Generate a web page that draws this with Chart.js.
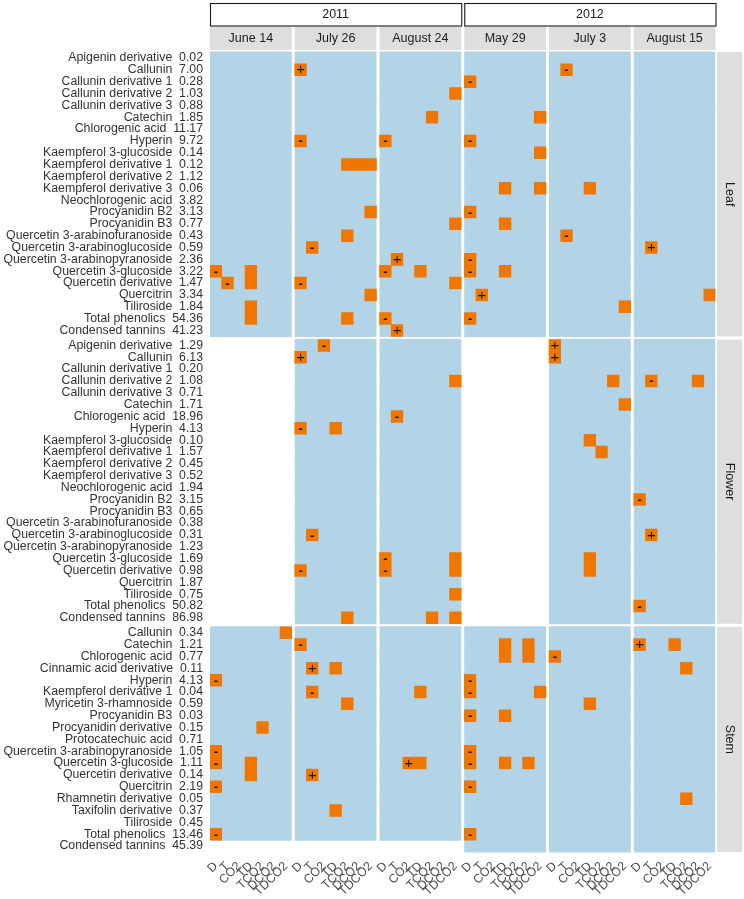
<!DOCTYPE html>
<html>
<head>
<meta charset="utf-8">
<script src="https://cdn.jsdelivr.net/npm/chart.js@4.4.1/dist/chart.umd.min.js"></script>
<style>
  html, body { margin: 0; padding: 0; background: #fff; }
  #wrap { width: 744px; height: 899px; position: relative; }
</style>
</head>
<body>
<div id="wrap"><canvas id="myChart"></canvas></div>
<script>
// facets
const years = ["2011", "2012"];
const dates = ["June 14", "July 26", "August 24", "May 29", "July 3", "August 15"];
const dateYears = ["2011", "2011", "2011", "2012", "2012", "2012"];
const treatments = ["D", "T", "CO2", "TD", "TCO2", "DCO2", "TDCO2"];
const tissues = ["Leaf", "Flower", "Stem"];

// compounds and their mean concentration per tissue
const leafCompounds = ["Apigenin derivative", "Callunin", "Callunin derivative 1", "Callunin derivative 2",
  "Callunin derivative 3", "Catechin", "Chlorogenic acid", "Hyperin", "Kaempferol 3-glucoside",
  "Kaempferol derivative 1", "Kaempferol derivative 2", "Kaempferol derivative 3", "Neochlorogenic acid",
  "Procyanidin B2", "Procyanidin B3", "Quercetin 3-arabinofuranoside", "Quercetin 3-arabinoglucoside",
  "Quercetin 3-arabinopyranoside", "Quercetin 3-glucoside", "Quercetin derivative", "Quercitrin",
  "Tiliroside", "Total phenolics", "Condensed tannins"];
const leafValues = [0.02, 7.00, 0.28, 1.03, 0.88, 1.85, 11.17, 9.72, 0.14, 0.12, 1.12, 0.06, 3.82,
  3.13, 0.77, 0.43, 0.59, 2.36, 3.22, 1.47, 3.34, 1.84, 54.36, 41.23];

const flowerCompounds = leafCompounds;
const flowerValues = [1.29, 6.13, 0.20, 1.08, 0.71, 1.71, 18.96, 4.13, 0.10, 1.57, 0.45, 0.52, 1.94,
  3.15, 0.65, 0.38, 0.31, 1.23, 1.69, 0.98, 1.87, 0.75, 50.82, 86.98];

const stemCompounds = ["Callunin", "Catechin", "Chlorogenic acid", "Cinnamic acid derivative", "Hyperin",
  "Kaempferol derivative 1", "Myricetin 3-rhamnoside", "Procyanidin B3", "Procyanidin derivative",
  "Protocatechuic acid", "Quercetin 3-arabinopyranoside", "Quercetin 3-glucoside", "Quercetin derivative",
  "Quercitrin", "Rhamnetin derivative", "Taxifolin derivative", "Tiliroside", "Total phenolics",
  "Condensed tannins"];
const stemValues = [0.34, 1.21, 0.77, 0.11, 4.13, 0.04, 0.59, 0.03, 0.15, 0.71, 1.05, 1.11, 0.14,
  2.19, 0.05, 0.37, 0.45, 13.46, 45.39];

// which sampling dates exist per tissue
const leafDates = dates;
const flowerDates = ["July 26", "August 24", "July 3", "August 15"];
const stemDates = dates;
const notMeasured = [
  ["Stem", "June 14", "Condensed tannins"],
  ["Stem", "July 26", "Condensed tannins"],
  ["Stem", "August 24", "Condensed tannins"]
];

// significant effects: [date, compound, treatment, sign]
const leafEffects = [
  ["June 14", "Quercetin 3-glucoside", "D", "-"], ["June 14", "Quercetin 3-glucoside", "TD", ""],
  ["June 14", "Quercetin derivative", "T", "-"], ["June 14", "Quercetin derivative", "TD", ""],
  ["June 14", "Tiliroside", "TD", ""], ["June 14", "Total phenolics", "TD", ""],
  ["July 26", "Callunin", "D", "+"], ["July 26", "Hyperin", "D", "-"],
  ["July 26", "Kaempferol derivative 1", "TCO2", ""], ["July 26", "Kaempferol derivative 1", "DCO2", ""],
  ["July 26", "Kaempferol derivative 1", "TDCO2", ""], ["July 26", "Procyanidin B2", "TDCO2", ""],
  ["July 26", "Quercetin 3-arabinofuranoside", "TCO2", ""], ["July 26", "Quercetin 3-arabinoglucoside", "T", "-"],
  ["July 26", "Quercetin derivative", "D", "-"], ["July 26", "Quercitrin", "TDCO2", ""],
  ["July 26", "Total phenolics", "TCO2", ""],
  ["August 24", "Callunin derivative 2", "TDCO2", ""], ["August 24", "Catechin", "TCO2", ""],
  ["August 24", "Hyperin", "D", "-"], ["August 24", "Procyanidin B3", "TDCO2", ""],
  ["August 24", "Quercetin 3-arabinopyranoside", "T", "+"], ["August 24", "Quercetin 3-glucoside", "D", "-"],
  ["August 24", "Quercetin 3-glucoside", "TD", ""], ["August 24", "Quercetin derivative", "TDCO2", ""],
  ["August 24", "Total phenolics", "D", "-"], ["August 24", "Condensed tannins", "T", "+"],
  ["May 29", "Callunin derivative 1", "D", "-"], ["May 29", "Catechin", "TDCO2", ""],
  ["May 29", "Hyperin", "D", "-"], ["May 29", "Kaempferol 3-glucoside", "TDCO2", ""],
  ["May 29", "Kaempferol derivative 3", "TD", ""], ["May 29", "Kaempferol derivative 3", "TDCO2", ""],
  ["May 29", "Procyanidin B2", "D", "-"], ["May 29", "Procyanidin B3", "TD", ""],
  ["May 29", "Quercetin 3-arabinopyranoside", "D", "-"], ["May 29", "Quercetin 3-glucoside", "D", "-"],
  ["May 29", "Quercetin 3-glucoside", "TD", ""], ["May 29", "Quercitrin", "T", "+"],
  ["May 29", "Total phenolics", "D", "-"],
  ["July 3", "Callunin", "T", "-"], ["July 3", "Kaempferol derivative 3", "TD", ""],
  ["July 3", "Quercetin 3-arabinofuranoside", "T", "-"], ["July 3", "Tiliroside", "TDCO2", ""],
  ["August 15", "Quercetin 3-arabinoglucoside", "T", "+"], ["August 15", "Quercitrin", "TDCO2", ""]
];
const flowerEffects = [
  ["July 26", "Apigenin derivative", "CO2", "-"], ["July 26", "Callunin", "D", "+"],
  ["July 26", "Hyperin", "D", "-"], ["July 26", "Hyperin", "TD", ""],
  ["July 26", "Quercetin 3-arabinoglucoside", "T", "-"], ["July 26", "Quercetin derivative", "D", "-"],
  ["July 26", "Condensed tannins", "TCO2", ""],
  ["August 24", "Callunin derivative 2", "TDCO2", ""], ["August 24", "Chlorogenic acid", "T", "-"],
  ["August 24", "Quercetin 3-glucoside", "D", "-"], ["August 24", "Quercetin derivative", "D", "-"],
  ["August 24", "Quercetin 3-glucoside", "TDCO2", ""], ["August 24", "Quercetin derivative", "TDCO2", ""],
  ["August 24", "Tiliroside", "TDCO2", ""], ["August 24", "Condensed tannins", "TCO2", ""],
  ["August 24", "Condensed tannins", "TDCO2", ""],
  ["July 3", "Apigenin derivative", "D", "+"], ["July 3", "Callunin", "D", "+"],
  ["July 3", "Callunin derivative 2", "DCO2", ""], ["July 3", "Catechin", "TDCO2", ""],
  ["July 3", "Kaempferol 3-glucoside", "TD", ""], ["July 3", "Kaempferol derivative 1", "TCO2", ""],
  ["July 3", "Quercetin 3-glucoside", "TD", ""], ["July 3", "Quercetin derivative", "TD", ""],
  ["August 15", "Callunin derivative 2", "T", "-"], ["August 15", "Callunin derivative 2", "DCO2", ""],
  ["August 15", "Procyanidin B2", "D", "-"], ["August 15", "Quercetin 3-arabinoglucoside", "T", "+"],
  ["August 15", "Total phenolics", "D", "-"]
];
const stemEffects = [
  ["June 14", "Callunin", "TDCO2", ""], ["June 14", "Hyperin", "D", "-"],
  ["June 14", "Procyanidin derivative", "TCO2", ""], ["June 14", "Quercetin 3-arabinopyranoside", "D", "-"],
  ["June 14", "Quercetin 3-glucoside", "D", "-"], ["June 14", "Quercetin 3-glucoside", "TD", ""],
  ["June 14", "Quercetin derivative", "TD", ""], ["June 14", "Quercitrin", "D", "-"],
  ["June 14", "Total phenolics", "D", "-"],
  ["July 26", "Catechin", "D", "-"], ["July 26", "Cinnamic acid derivative", "T", "+"],
  ["July 26", "Cinnamic acid derivative", "TD", ""], ["July 26", "Kaempferol derivative 1", "T", "-"],
  ["July 26", "Myricetin 3-rhamnoside", "TCO2", ""], ["July 26", "Quercetin derivative", "T", "+"],
  ["July 26", "Taxifolin derivative", "TD", ""],
  ["August 24", "Kaempferol derivative 1", "TD", ""], ["August 24", "Quercetin 3-glucoside", "CO2", "+"],
  ["August 24", "Quercetin 3-glucoside", "TD", ""],
  ["May 29", "Catechin", "TD", ""], ["May 29", "Chlorogenic acid", "TD", ""],
  ["May 29", "Catechin", "DCO2", ""], ["May 29", "Chlorogenic acid", "DCO2", ""],
  ["May 29", "Hyperin", "D", "-"], ["May 29", "Kaempferol derivative 1", "D", "-"],
  ["May 29", "Kaempferol derivative 1", "TDCO2", ""], ["May 29", "Procyanidin B3", "D", "-"],
  ["May 29", "Procyanidin B3", "TD", ""], ["May 29", "Quercetin 3-arabinopyranoside", "D", "-"],
  ["May 29", "Quercetin 3-glucoside", "D", "-"], ["May 29", "Quercetin 3-glucoside", "TD", ""],
  ["May 29", "Quercetin 3-glucoside", "DCO2", ""], ["May 29", "Quercitrin", "D", "-"],
  ["May 29", "Total phenolics", "D", "-"],
  ["July 3", "Chlorogenic acid", "D", "-"], ["July 3", "Myricetin 3-rhamnoside", "TD", ""],
  ["August 15", "Catechin", "D", "+"], ["August 15", "Catechin", "TD", ""],
  ["August 15", "Cinnamic acid derivative", "TCO2", ""], ["August 15", "Rhamnetin derivative", "TCO2", ""]
];

const tissueCompounds = [leafCompounds, flowerCompounds, stemCompounds];
const tissueValues = [leafValues, flowerValues, stemValues];
const tissueDates = [leafDates, flowerDates, stemDates];
const tissueEffects = [leafEffects, flowerEffects, stemEffects];

// panel spacing in cell units
const GAP = 0.26;
const FONT = "'Liberation Sans', Arial, Helvetica, sans-serif";

const panelStart = (d) => d * (treatments.length + GAP);

// y position of first row of every tissue
const tissueOffset = [];
let off = 0;
tissueCompounds.forEach((list) => {
  tissueOffset.push(off);
  off += list.length + GAP;
});
const yMax = off - GAP - 0.5;
const xMax = panelStart(dates.length - 1) + treatments.length;

// y tick rows
const rowTicks = [];
const rowLabels = [];
tissueCompounds.forEach((list, t) => {
  list.forEach((name, i) => {
    rowTicks.push(tissueOffset[t] + i);
    rowLabels.push(name + "  " + tissueValues[t][i].toFixed(2));
  });
});

// x tick columns
const colTicks = [];
const colLabels = [];
dates.forEach((d, di) => {
  treatments.forEach((tr, ti) => {
    colTicks.push(panelStart(di) + ti + 0.5);
    colLabels.push(tr);
  });
});

// background cells (measured) and significant cells
const bgData = [];
tissues.forEach((tissue, t) => {
  tissueDates[t].forEach((d) => {
    const di = dates.indexOf(d);
    tissueCompounds[t].forEach((name, i) => {
      const skip = notMeasured.some((m) => m[0] === tissue && m[1] === d && m[2] === name);
      if (!skip) {
        bgData.push({ y: tissueOffset[t] + i, x: [panelStart(di), panelStart(di) + treatments.length] });
      }
    });
  });
});

const effData = [];
tissueEffects.forEach((list, t) => {
  list.forEach(([d, name, tr, sign]) => {
    const x0 = panelStart(dates.indexOf(d)) + treatments.indexOf(tr);
    effData.push({ y: tissueOffset[t] + tissueCompounds[t].indexOf(name), x: [x0, x0 + 1], sign: sign });
  });
});

// strips and +/- labels
const facetPlugin = {
  id: "facets",
  afterDatasetsDraw(chart) {
    const ctx = chart.ctx;
    const xs = chart.scales.x;
    const ys = chart.scales.y;
    ctx.save();
    ctx.fillStyle = "#1a1a1a";
    ctx.textAlign = "center";
    ctx.textBaseline = "middle";
    effData.forEach((p) => {
      if (!p.sign) return;
      const cx = xs.getPixelForValue((p.x[0] + p.x[1]) / 2);
      const cy = ys.getPixelForValue(p.y);
      if (p.sign === "+") {
        ctx.font = "15px " + FONT;
        ctx.fillText("+", cx, cy + 0.5);
      } else {
        ctx.font = "bold 13px " + FONT;
        ctx.fillText("-", cx, cy + 1);
      }
    });
    ctx.restore();
  },
  afterDraw(chart) {
    const ctx = chart.ctx;
    const xs = chart.scales.x;
    const ys = chart.scales.y;
    const area = chart.chartArea;
    ctx.save();
    ctx.textAlign = "center";
    ctx.textBaseline = "middle";

    // date strips
    dates.forEach((d, di) => {
      const x0 = xs.getPixelForValue(panelStart(di));
      const x1 = xs.getPixelForValue(panelStart(di) + treatments.length);
      ctx.fillStyle = "#dedede";
      ctx.fillRect(x0, 26.5, x1 - x0, 23.5);
      ctx.fillStyle = "#1a1a1a";
      ctx.font = "12.5px " + FONT;
      ctx.fillText(d, (x0 + x1) / 2, 38.5);
    });

    // year boxes
    years.forEach((yr) => {
      const first = dateYears.indexOf(yr);
      const last = dateYears.lastIndexOf(yr);
      const x0 = xs.getPixelForValue(panelStart(first));
      const x1 = xs.getPixelForValue(panelStart(last) + treatments.length);
      ctx.fillStyle = "#fff";
      ctx.fillRect(x0, 3.5, x1 - x0, 22.5);
      ctx.strokeStyle = "#1a1a1a";
      ctx.lineWidth = 1.1;
      ctx.strokeRect(x0 + 0.5, 3.5, x1 - x0, 22.5);
      ctx.fillStyle = "#1a1a1a";
      ctx.font = "12.5px " + FONT;
      ctx.fillText(yr, (x0 + x1) / 2, 15);
    });

    // tissue strips on the right
    tissues.forEach((tissue, t) => {
      const y0 = ys.getPixelForValue(tissueOffset[t] - 0.5);
      const y1 = ys.getPixelForValue(tissueOffset[t] + tissueCompounds[t].length - 0.5);
      const x0 = area.right + 1.5;
      ctx.fillStyle = "#dedede";
      ctx.fillRect(x0, y0, 742 - x0, y1 - y0);
      ctx.save();
      ctx.translate((x0 + 742) / 2, (y0 + y1) / 2);
      ctx.rotate(Math.PI / 2);
      ctx.fillStyle = "#1a1a1a";
      ctx.font = "12.5px " + FONT;
      ctx.fillText(tissue, 0, 0);
      ctx.restore();
    });
    ctx.restore();
  }
};

const ctx = document.getElementById("myChart");

const myChart = new Chart(ctx, {
  type: "bar",
  data: {
    datasets: [
      {
        label: "significant",
        data: effData,
        backgroundColor: "#ef7700",
        borderWidth: 0,
        grouped: false,
        barPercentage: 1,
        categoryPercentage: 1
      },
      {
        // slightly taller than a row so neighbouring rows do not show seams
        label: "measured",
        data: bgData,
        backgroundColor: "#b3d4e6",
        borderWidth: 0,
        inflateAmount: 0,
        grouped: false,
        barPercentage: 1.1,
        categoryPercentage: 1
      }
    ]
  },
  options: {
    indexAxis: "y",
    responsive: true,
    maintainAspectRatio: false,
    animation: false,
    layout: { padding: { top: 46, right: 28.5, left: 0, bottom: 0 } },
    plugins: { legend: { display: false }, tooltip: { enabled: false } },
    scales: {
      x: {
        type: "linear",
        min: 0,
        max: xMax,
        grid: { display: false, drawTicks: false },
        border: { display: false },
        afterBuildTicks: (axis) => { axis.ticks = colTicks.map((v) => ({ value: v })); },
        afterFit: (axis) => { axis.height = 41; },
        ticks: {
          autoSkip: false,
          minRotation: 45,
          maxRotation: 45,
          padding: 1,
          color: "#4d4d4d",
          font: { family: FONT, size: 12.3 },
          callback: (v, i) => colLabels[i]
        }
      },
      y: {
        type: "linear",
        reverse: true,
        min: -0.5,
        max: yMax,
        grid: { display: false, drawTicks: false },
        border: { display: false },
        afterBuildTicks: (axis) => { axis.ticks = rowTicks.map((v) => ({ value: v })); },
        afterFit: (axis) => { axis.width = 210; },
        ticks: {
          autoSkip: false,
          padding: 7,
          color: "#333",
          font: { family: FONT, size: 12.3 },
          callback: (v, i) => rowLabels[i]
        }
      }
    }
  },
  plugins: [facetPlugin]
});
</script>
</body>
</html>
